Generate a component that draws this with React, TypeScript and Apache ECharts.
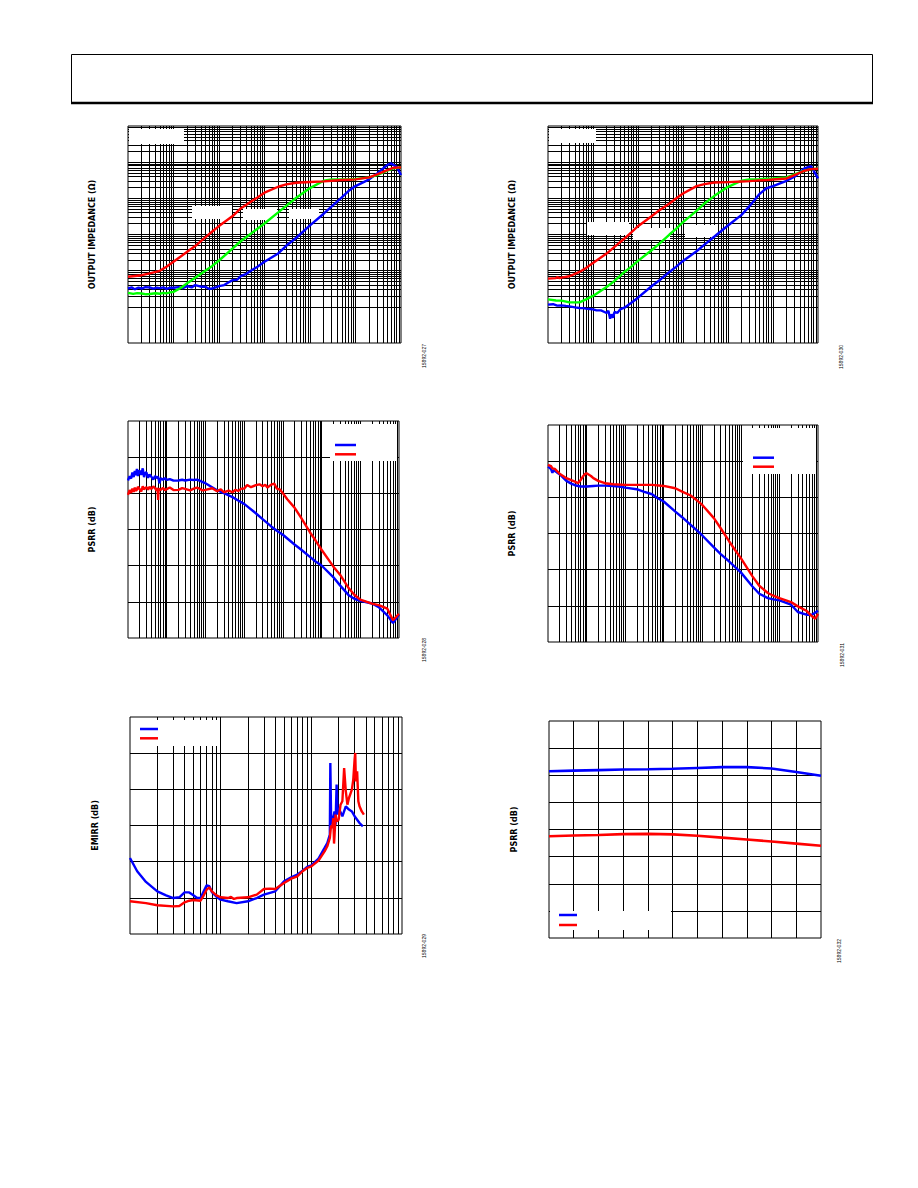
import React, { useEffect, useRef } from "react";
import * as echarts from "echarts";

type Pt = [number, number];

// ---- Output impedance (Ω) vs frequency (Hz), configuration A ----
const zoutA_red: Pt[] = [[100,0.068],[200,0.075],[300,0.084],[500,0.099],[700,0.128],[1e3,0.176],[2e3,0.333],[3e3,0.478],[5e3,0.83],[7e3,1.19],[1e4,1.71],[2e4,3.23],[3e4,5.26],[5e4,8.05],[7e4,10.6],[1e5,14.3],[2e5,20.9],[3e5,24.3],[5e5,27.0],[1e6,28.2],[2e6,29.4],[3e6,30.7],[5e6,32.0],[7e6,32.7],[1e7,33.4],[2e7,37.9],[3e7,45.9],[5e7,60.5],[7e7,70.3],[1e8,71.8]];
const zoutA_green: Pt[] = [[100,0.0244],[130,0.0228],[160,0.024],[200,0.0234],[250,0.0222],[300,0.0226],[400,0.0238],[500,0.023],[600,0.0242],[700,0.0236],[850,0.025],[1e3,0.026],[1.5e3,0.0343],[2e3,0.0452],[3e3,0.0635],[5e3,0.0991],[7e3,0.133],[1e4,0.191],[2e4,0.411],[3e4,0.65],[5e4,1.05],[7e4,1.44],[1e5,2.02],[2e5,4.08],[3e5,6.17],[5e5,10.4],[1e6,19.2],[2e6,30.7],[3e6,33.4],[5e6,33.4],[7e6,33.4],[1e7,34.1],[2e7,37.9],[3e7,44.1],[5e7,58.1],[7e7,67.3],[1e8,71.8]];
const zoutA_blue: Pt[] = [[100,0.0321],[120,0.0345],[140,0.0305],[170,0.0338],[200,0.0321],[240,0.035],[300,0.0343],[360,0.0318],[430,0.034],[500,0.0329],[600,0.0345],[700,0.0315],[850,0.0338],[1e3,0.0336],[1.3e3,0.0352],[1.6e3,0.033],[2e3,0.0373],[2.5e3,0.0345],[3e3,0.0398],[4e3,0.036],[5e3,0.0358],[6e3,0.0315],[7e3,0.0321],[8.5e3,0.0345],[1e4,0.0373],[1.3e4,0.04],[1.6e4,0.047],[2e4,0.0547],[2.5e4,0.056],[3e4,0.0706],[4e4,0.082],[5e4,0.0991],[7e4,0.128],[1e5,0.176],[2e5,0.299],[3e5,0.488],[5e5,0.813],[1e6,1.78],[2e6,3.75],[3e6,5.98],[5e6,10.6],[7e6,15.9],[1e7,21.8],[2e7,33.4],[3e7,49.0],[5e7,83.4],[6e7,92.7],[8e7,75],[1e8,44.1]];

// ---- Output impedance (Ω) vs frequency (Hz), configuration B ----
const zoutB_red: Pt[] = [[100,0.0603],[150,0.062],[160,0.066],[180,0.0625],[200,0.0643],[300,0.07],[500,0.0923],[700,0.119],[1e3,0.164],[2e3,0.297],[3e3,0.454],[5e3,0.773],[7e3,1.13],[1e4,1.7],[2e4,3.21],[3e4,4.71],[5e4,7.21],[7e4,9.91],[1e5,13.6],[2e5,21.8],[3e5,24.7],[5e5,27.5],[1e6,28.1],[2e6,29.3],[3e6,29.9],[5e6,31.3],[7e6,31.9],[1e7,33.3],[2e7,35.5],[3e7,44.0],[5e7,57.9],[7e7,64.4],[1e8,65.8]];
const zoutB_green: Pt[] = [[100,0.0161],[150,0.015],[200,0.0148],[300,0.0133],[500,0.0133],[700,0.0161],[1e3,0.02],[2e3,0.0354],[3e3,0.052],[5e3,0.0923],[7e3,0.127],[1e4,0.186],[2e4,0.367],[3e4,0.562],[5e4,0.998],[7e4,1.43],[1e5,2.19],[2e5,4.52],[3e5,7.21],[5e5,11.7],[1e6,20.8],[2e6,30.6],[3e6,33.3],[5e6,34.0],[7e6,34.8],[1e7,35.5],[2e7,37.8],[3e7,45.8],[5e7,57.9],[7e7,64.4],[1e8,65.8]];
const zoutB_blue: Pt[] = [[100,0.0115],[130,0.0118],[160,0.0108],[200,0.011],[250,0.0106],[300,0.0103],[400,0.0097],[500,0.00929],[600,0.0092],[700,0.0089],[850,0.0087],[1e3,0.00853],[1.2e3,0.008],[1.5e3,0.008],[1.8e3,0.0072],[2e3,0.00675],[2.2e3,0.0078],[2.4e3,0.0047],[2.6e3,0.0062],[2.8e3,0.005],[3e3,0.00719],[3.5e3,0.0068],[4e3,0.0085],[5e3,0.00948],[7e3,0.0128],[1e4,0.0179],[2e4,0.037],[3e4,0.0542],[5e4,0.0923],[7e4,0.127],[1e5,0.186],[2e5,0.344],[3e5,0.527],[5e5,0.879],[1e6,1.77],[2e6,3.5],[3e6,6.08],[5e6,13.1],[7e6,18.7],[1e7,21.8],[2e7,30.6],[3e7,39.4],[5e7,67.1],[7e7,78.0],[1e8,35.5]];

// ---- PSRR (dB) vs frequency (Hz), configuration A ----
const psrrA_blue: Pt[] = [[10,87.1],[11,89.5],[12,88.2],[13,91.5],[14,89.0],[15,92.3],[16,90.1],[17,93.5],[18,89.6],[19,92.0],[20,92.6],[22,90.2],[24,93.8],[26,89.0],[28,91.4],[30,91.5],[33,88.6],[36,90.4],[40,89.2],[45,87.6],[50,89.6],[55,88.4],[60,89.2],[65,85.5],[70,88.3],[80,87.5],[90,88.4],[100,87.4],[120,87.9],[150,87.0],[200,87.1],[250,87.5],[300,87.1],[400,87.6],[500,87.4],[600,87.6],[700,87.1],[850,86.2],[1e3,85.6],[2e3,81.7],[3e3,80.1],[5e3,77.9],[7e3,76.0],[1e4,74.2],[2e4,69.0],[3e4,65.7],[5e4,61.7],[7e4,59.3],[1e5,57.1],[2e5,51.7],[3e5,48.8],[5e5,44.9],[7e5,42.3],[1e6,40.1],[2e6,33.7],[3e6,29.1],[5e6,23.7],[7e6,21.7],[1e7,20.6],[2e7,19.1],[3e7,17.1],[5e7,12.5],[7e7,8.3],[1e8,12.9]];
const psrrA_red: Pt[] = [[10,79.1],[11,81.8],[12,80.2],[13,82.6],[14,80.8],[15,83.2],[16,81.4],[17,82.0],[18,83.6],[20,82.3],[22,81.0],[24,83.9],[26,82.2],[28,83.0],[30,83.4],[33,82.0],[36,83.6],[40,82.4],[45,83.8],[50,82.8],[55,81.6],[58,83.0],[60,76.4],[62,82.5],[70,81.9],[80,83.0],[90,81.8],[100,82.3],[120,83.2],[150,81.8],[200,81.9],[250,82.9],[300,82.5],[400,81.6],[500,82.6],[600,83.2],[700,82.6],[850,81.6],[1e3,81.9],[1.5e3,82.8],[2e3,81.2],[2.5e3,82.2],[3e3,80.6],[4e3,81.5],[5e3,80.6],[6e3,82.0],[7e3,81.3],[8.5e3,82.6],[1e4,82.6],[1.2e4,84.6],[1.5e4,83.4],[2e4,84.5],[2.5e4,85.0],[3e4,83.9],[3.5e4,84.8],[4e4,83.2],[5e4,84.8],[6e4,85.4],[7e4,82.6],[8.5e4,82.0],[1e5,80.1],[1.3e5,76.7],[2e5,72.1],[3e5,66.3],[5e5,58.5],[7e5,53.9],[1e6,48.8],[2e6,39.6],[3e6,35.0],[5e6,27.6],[7e6,23.9],[1e7,21.2],[2e7,19.0],[3e7,18.2],[5e7,16.2],[7e7,9.8],[1e8,13.4]];

// ---- PSRR (dB) vs frequency (Hz), configuration B ----
const psrrB_blue: Pt[] = [[10,97.0],[12,95.6],[13,93.5],[14,95.2],[15,94.6],[17,93.8],[20,92.8],[25,90.8],[30,89.1],[40,87.6],[50,86.7],[70,86.0],[100,86.0],[150,86.3],[200,86.5],[300,86.5],[500,86.3],[700,86.0],[1e3,85.4],[2e3,84.5],[3e3,83.2],[5e3,81.7],[7e3,79.5],[1e4,77.7],[2e4,72.1],[3e4,69.0],[5e4,64.8],[7e4,62.0],[1e5,58.9],[2e5,52.3],[3e5,48.6],[5e5,44.5],[7e5,41.6],[1e6,38.5],[2e6,30.7],[3e6,26.7],[5e6,24.3],[7e6,23.6],[1e7,23.0],[2e7,20.6],[3e7,16.6],[5e7,15.1],[7e7,15.1],[1e8,17.3]];
const psrrB_red: Pt[] = [[10,97.9],[12,97.2],[13,96.0],[15,95.7],[20,93.1],[30,90.6],[40,89.5],[50,88.7],[60,87.8],[70,89.6],[80,91.5],[90,92.8],[100,93.3],[130,91.8],[150,90.6],[200,89.1],[300,87.8],[500,87.2],[1e3,86.9],[2e3,86.9],[5e3,86.9],[1e4,86.3],[2e4,85.0],[3e4,83.2],[5e4,81.0],[7e4,78.6],[1e5,75.8],[2e5,68.5],[3e5,62.9],[5e5,55.6],[7e5,51.0],[1e6,46.4],[2e6,36.3],[3e6,31.1],[5e6,27.1],[7e6,25.6],[1e7,24.3],[2e7,22.1],[3e7,19.7],[5e7,17.3],[7e7,14.2],[8.5e7,12.9],[1e8,15.5]];

// ---- EMIRR (dB) vs frequency (Hz) ----
const emirr_blue: Pt[] = [[1e7,42.0],[1.2e7,34.7],[1.5e7,28.8],[2e7,23.6],[2.5e7,21.4],[3e7,19.9],[3.5e7,20.3],[4e7,23.0],[4.5e7,23.0],[5e7,21.4],[5.5e7,19.9],[6e7,19.9],[6.5e7,23.6],[7e7,26.9],[7.5e7,26.4],[8e7,23.2],[9e7,20.6],[1e8,19.0],[1.2e8,18.1],[1.5e8,17.1],[2e8,18.1],[2.5e8,19.9],[3e8,21.8],[4e8,23.6],[5e8,29.1],[6e8,31.3],[7e8,32.8],[8e8,35.0],[9e8,37.1],[1e9,38.0],[1.2e9,41.7],[1.4e9,47.6],[1.5e9,50.3],[1.6e9,54.9],[1.62e9,94.6],[1.65e9,66.0],[1.7e9,60.5],[1.8e9,67.8],[1.85e9,60.5],[1.9e9,82.6],[1.95e9,66.0],[2e9,69.7],[2.2e9,65.1],[2.4e9,70.6],[2.6e9,68.8],[2.8e9,67.8],[3e9,65.1],[3.4e9,61.4],[3.7e9,59.5]];
const emirr_red: Pt[] = [[1e7,18.1],[1.5e7,17.1],[2e7,15.9],[3e7,15.3],[3.5e7,15.5],[4e7,17.5],[4.5e7,18.4],[5e7,18.8],[6e7,18.4],[6.5e7,21.4],[7e7,24.5],[7.5e7,25.8],[8e7,23.6],[9e7,21.4],[1e8,20.3],[1.2e8,19.9],[1.3e8,20.5],[1.4e8,19.4],[1.5e8,19.9],[2e8,20.3],[2.5e8,21.8],[3e8,24.9],[3.5e8,25.1],[4e8,24.9],[5e8,28.2],[6e8,30.6],[7e8,31.9],[8e8,34.7],[9e8,36.5],[1e9,37.4],[1.2e9,40.6],[1.4e9,45.7],[1.5e9,48.5],[1.6e9,53.1],[1.65e9,60.0],[1.7e9,58.6],[1.75e9,64.1],[1.78e9,50.0],[1.8e9,54.0],[1.85e9,66.0],[1.9e9,62.3],[2e9,63.2],[2.1e9,71.5],[2.2e9,73.4],[2.3e9,91.8],[2.4e9,78.9],[2.5e9,71.5],[2.6e9,75.2],[2.8e9,79.8],[2.9e9,85.3],[3e9,96.4],[3.05e9,100.1],[3.1e9,84.4],[3.2e9,90.0],[3.3e9,73.4],[3.4e9,70.6],[3.6e9,67.8],[3.8e9,66.0]];

// ---- PSRR (dB) vs temperature (°C) ----
const temperatures = [-40, -25, -10, 5, 20, 35, 50, 65, 80, 95, 110, 125];
const psrrT_blue = [121.5, 121.7, 121.9, 122.1, 122.2, 122.4, 122.7, 123.0, 123.0, 122.5, 121.2, 119.8];
const psrrT_red = [97.5, 97.8, 98.0, 98.3, 98.4, 98.2, 97.7, 97.0, 96.3, 95.6, 94.8, 94.0];

// Linear grid line positions
const dbTicks = [20, 40, 60, 80, 100];
const tempTicks = [-25, -10, 5, 20, 35, 50, 65, 80, 95, 110];
const tempDbTicks = [70, 80, 90, 100, 110, 120, 130];

// Figure numbers
const figIds = ["15892-027", "15892-030", "15892-028", "15892-031", "15892-029", "15892-032"];

const BLUE = "#0000ff";
const RED = "#ff0000";
const GREEN = "#00ff00";

// 1..9 × 10^e grid lines inside a log range (decade edges excluded at the ends)
function logGrid(minExp: number, maxExp: number): number[] {
  const out: number[] = [];
  for (let e = minExp; e < maxExp; e++) {
    for (let m = 1; m <= 9; m++) {
      if (e === minExp && m === 1) continue;
      out.push(Number((m * Math.pow(10, e)).toPrecision(6)));
    }
  }
  return out;
}

const grids = [
  { left: 128, top: 126, width: 273, height: 217 },
  { left: 548, top: 126, width: 270, height: 217 },
  { left: 128, top: 421, width: 271, height: 217 },
  { left: 548, top: 425, width: 270, height: 217 },
  { left: 130, top: 717, width: 272, height: 217 },
  { left: 549, top: 721, width: 272, height: 217 },
];

const hiddenAxis = {
  axisLine: { show: false },
  axisTick: { show: false },
  axisLabel: { show: false },
  splitLine: { show: false },
};

const nameStyle = {
  color: "#000",
  fontFamily: "DejaVu Sans",
  fontWeight: "bold",
  fontSize: 8,
};

function gridLines(idx: number, anchor: Pt, xs: number[], ys: number[]) {
  return {
    type: "line",
    xAxisIndex: idx,
    yAxisIndex: idx,
    data: [anchor],
    symbol: "none",
    lineStyle: { opacity: 0 },
    silent: true,
    z: 1,
    markLine: {
      silent: true,
      z: 1,
      symbol: ["none", "none"],
      label: { show: false },
      emphasis: { disabled: true },
      lineStyle: { color: "#000", width: 1, type: "solid", opacity: 1 },
      data: [
        ...xs.map((v) => ({ xAxis: v })),
        ...ys.map((v) => ({ yAxis: v })),
      ],
    },
  };
}

function curve(idx: number, data: Pt[], color: string, width = 2.4) {
  return {
    type: "line",
    xAxisIndex: idx,
    yAxisIndex: idx,
    data,
    symbol: "none",
    showSymbol: false,
    silent: true,
    z: 3,
    clip: true,
    lineStyle: { color, width },
    itemStyle: { color },
  };
}

function buildOption() {
  const xAxis = [
    { type: "log", logBase: 10, min: 1e2, max: 1e8 },
    { type: "log", logBase: 10, min: 1e2, max: 1e8 },
    { type: "log", logBase: 10, min: 1e1, max: 1e8 },
    { type: "log", logBase: 10, min: 1e1, max: 1e8 },
    { type: "log", logBase: 10, min: 1e7, max: 1e10 },
    { type: "value", min: -40, max: 125 },
  ].map((a, i) => ({ ...a, gridIndex: i, ...hiddenAxis }));

  const yNames = [
    "OUTPUT IMPEDANCE (Ω)",
    "OUTPUT IMPEDANCE (Ω)",
    "PSRR (dB)",
    "PSRR (dB)",
    "EMIRR (dB)",
    "PSRR (dB)",
  ];
  const yGaps = [32, 32, 32, 32, 31, 31];
  const yAxis = [
    { type: "log", logBase: 10, min: 1e-3, max: 1e3 },
    { type: "log", logBase: 10, min: 1e-3, max: 1e3 },
    { type: "value", min: 0, max: 120 },
    { type: "value", min: 0, max: 120 },
    { type: "value", min: 0, max: 120 },
    { type: "value", min: 60, max: 140 },
  ].map((a, i) => ({
    ...a,
    gridIndex: i,
    ...hiddenAxis,
    name: yNames[i],
    nameLocation: "middle",
    nameGap: yGaps[i],
    nameTextStyle: nameStyle,
  }));

  const tempBlue: Pt[] = temperatures.map((t, i) => [t, psrrT_blue[i]]);
  const tempRed: Pt[] = temperatures.map((t, i) => [t, psrrT_red[i]]);

  const series = [
    gridLines(0, [1e2, 1], logGrid(2, 8), logGrid(-3, 3)),
    gridLines(1, [1e2, 1], logGrid(2, 8), logGrid(-3, 3)),
    gridLines(2, [10, 50], logGrid(1, 8), dbTicks),
    gridLines(3, [10, 50], logGrid(1, 8), dbTicks),
    gridLines(4, [1e7, 50], logGrid(7, 10), dbTicks),
    gridLines(5, [0, 100], tempTicks, tempDbTicks),

    curve(0, zoutA_blue, BLUE),
    curve(0, zoutA_green, GREEN),
    curve(0, zoutA_red, RED),

    curve(1, zoutB_blue, BLUE),
    curve(1, zoutB_green, GREEN),
    curve(1, zoutB_red, RED),

    curve(2, psrrA_blue, BLUE),
    curve(2, psrrA_red, RED),

    curve(3, psrrB_blue, BLUE),
    curve(3, psrrB_red, RED),

    curve(4, emirr_blue, BLUE),
    curve(4, emirr_red, RED),

    curve(5, tempBlue, BLUE, 2.6),
    curve(5, tempRed, RED, 2.6),
  ];

  // Blank label / legend panels that sit over the grid
  const panels = [
    [129, 129, 55, 15], [192, 206, 40, 13], [243, 209, 34, 11], [289, 209, 30, 10],
    [549, 129, 47, 14], [587, 222, 42, 13], [633, 228, 37, 12], [685, 225, 31, 12],
    [330, 424, 67, 37], [743, 428, 73, 46], [131, 720, 87, 26], [550, 911, 121, 19],
  ].map(([x, y, w, h]) => ({
    type: "rect",
    z: 2,
    silent: true,
    shape: { x, y, width: w, height: h },
    style: { fill: "#fff" },
  }));

  // Legend swatches: [x1, x2, yBlue, yRed]
  const swatches = [
    [335, 356, 445, 454.3],
    [753, 774, 457.7, 466.7],
    [140, 158, 729, 738.3],
    [559, 577, 915, 925],
  ].flatMap(([x1, x2, yb, yr]) => [
    { type: "line", z: 4, silent: true, shape: { x1, y1: yb, x2, y2: yb }, style: { stroke: BLUE, lineWidth: 2.5 } },
    { type: "line", z: 4, silent: true, shape: { x1, y1: yr, x2, y2: yr }, style: { stroke: RED, lineWidth: 2.5 } },
  ]);

  const idPos = [
    [423.5, 356], [841, 357], [423.5, 650], [841.5, 655], [423.5, 946], [838.5, 951],
  ];
  const ids = idPos.map(([x, y], i) => ({
    type: "text",
    z: 4,
    silent: true,
    x,
    y,
    rotation: Math.PI / 2,
    style: {
      text: figIds[i],
      fontSize: 5,
      fontFamily: "Liberation Sans",
      fill: "#000",
      align: "center",
      verticalAlign: "middle",
      textAlign: "center",
      textVerticalAlign: "middle",
    },
  }));

  const header = [
    { type: "rect", z: 4, silent: true, shape: { x: 71.5, y: 54.5, width: 801, height: 48 }, style: { fill: "none", stroke: "#000", lineWidth: 1 } },
    { type: "line", z: 4, silent: true, shape: { x1: 71, y1: 103, x2: 873, y2: 103 }, style: { stroke: "#000", lineWidth: 2.5 } },
  ];

  return {
    animation: false,
    backgroundColor: "#fff",
    grid: grids.map((g) => ({
      ...g,
      show: true,
      borderColor: "#000",
      borderWidth: 1,
      backgroundColor: "#fff",
      containLabel: false,
    })),
    xAxis,
    yAxis,
    series,
    graphic: { elements: [...panels, ...swatches, ...ids, ...header] },
  };
}

export default function App() {
  const ref = useRef<HTMLDivElement>(null);

  useEffect(() => {
    if (!ref.current) return;
    const chart = echarts.init(ref.current, undefined, { renderer: "svg" });
    chart.setOption(buildOption() as any);
    return () => chart.dispose();
  }, []);

  return (
    <div
      ref={ref}
      style={{ position: "absolute", left: 0, top: 0, width: 918, height: 1188, background: "#fff" }}
    />
  );
}
